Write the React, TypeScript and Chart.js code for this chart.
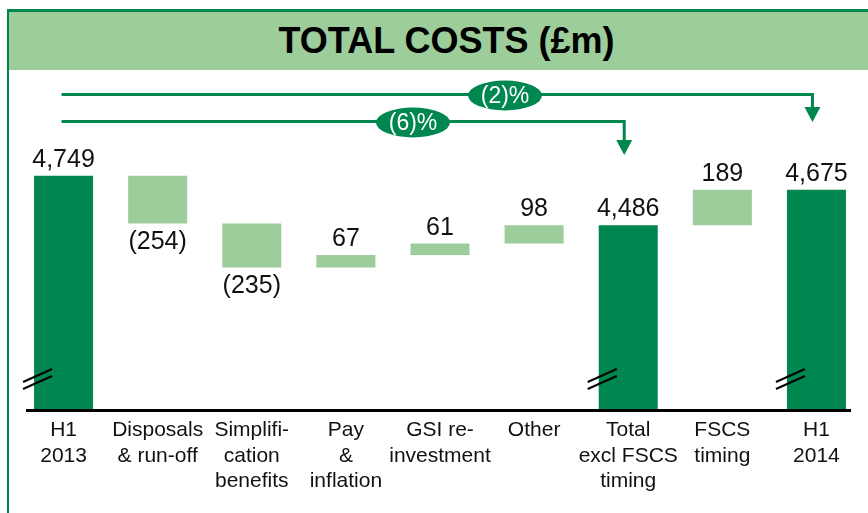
import React, { useEffect, useRef } from "react";
import { Chart, registerables } from "chart.js";

Chart.register(...registerables);

const categories: string[][] = [
  ["H1", "2013"],
  ["Disposals", "& run-off"],
  ["Simplifi-", "cation", "benefits"],
  ["Pay", "&", "inflation"],
  ["GSI re-", "investment"],
  ["Other"],
  ["Total", "excl FSCS", "timing"],
  ["FSCS", "timing"],
  ["H1", "2014"],
];
const changes: number[] = [4749, -254, -235, 67, 61, 98, 4486, 189, 4675];
const isTotal: boolean[] = [true, false, false, false, false, false, true, false, true];
const valueLabels: string[] = ["4,749", "(254)", "(235)", "67", "61", "98", "4,486", "189", "4,675"];
const axisBase = 3500;
const axisTop = 4967;
const arrowLabels: string[] = ["(2)%", "(6)%"];

const DARK = "#00874F";
const LIGHT = "#9CCD9A";
const FONT = "'Liberation Sans', Arial, Helvetica, sans-serif";

function buildRanges(): [number, number][] {
  const out: [number, number][] = [];
  let run = 0;
  changes.forEach((v, i) => {
    if (isTotal[i]) {
      run = v;
      out.push([axisBase, v]);
    } else {
      const s = run;
      run = run + v;
      out.push([Math.min(s, run), Math.max(s, run)]);
    }
  });
  return out;
}

const overlayPlugin = {
  id: "overlay",
  afterDatasetsDraw(chart: any) {
    const ctx = chart.ctx;
    const meta = chart.getDatasetMeta(0);
    const area = chart.chartArea;
    ctx.save();
    // axis line
    ctx.strokeStyle = "#000";
    ctx.lineWidth = 3;
    ctx.beginPath();
    ctx.moveTo(26, area.bottom + 0.5);
    ctx.lineTo(851, area.bottom + 0.5);
    ctx.stroke();

    // value labels
    ctx.fillStyle = "#111";
    ctx.font = `25px ${FONT}`;
    ctx.textAlign = "center";
    meta.data.forEach((bar: any, i: number) => {
      const top = Math.min(bar.y, bar.base);
      const bottom = Math.max(bar.y, bar.base);
      if (changes[i] < 0) {
        ctx.textBaseline = "top";
        ctx.fillText(valueLabels[i], bar.x, bottom + 6);
      } else {
        ctx.textBaseline = "alphabetic";
        ctx.fillText(valueLabels[i], bar.x, top - 9);
      }
    });

    // break marks on total bars
    ctx.strokeStyle = "#000";
    ctx.lineWidth = 2;
    meta.data.forEach((bar: any, i: number) => {
      if (!isTotal[i]) return;
      const left = bar.x - bar.width / 2;
      const y0 = area.bottom - 28;
      for (const dy of [0, 7]) {
        ctx.beginPath();
        ctx.moveTo(left - 11, y0 + dy);
        ctx.lineTo(left + 18, y0 + dy - 13);
        ctx.stroke();
      }
    });

    // arrows
    const x0 = meta.data[0].x - 2;
    const drawArrow = (y: number, xEnd: number, tipY: number, label: string, pillX: number) => {
      ctx.strokeStyle = DARK;
      ctx.fillStyle = DARK;
      ctx.lineWidth = 3;
      ctx.beginPath();
      ctx.moveTo(x0, y);
      ctx.lineTo(xEnd, y);
      ctx.lineTo(xEnd, tipY - 12);
      ctx.stroke();
      ctx.beginPath();
      ctx.moveTo(xEnd - 8, tipY - 15);
      ctx.lineTo(xEnd + 8, tipY - 15);
      ctx.lineTo(xEnd, tipY);
      ctx.closePath();
      ctx.fill();
      ctx.beginPath();
      ctx.ellipse(pillX, y + 1, 37, 15, 0, 0, Math.PI * 2);
      ctx.fill();
      ctx.fillStyle = "#fff";
      ctx.font = `23px ${FONT}`;
      ctx.textAlign = "center";
      ctx.textBaseline = "middle";
      ctx.fillText(label, pillX, y + 2);
    };
    drawArrow(94.5, meta.data[8].x - 4, 122, arrowLabels[0], 505);
    drawArrow(121.5, meta.data[6].x - 4, 155, arrowLabels[1], 413);
    ctx.restore();
  },
};

export default function App() {
  const ref = useRef<HTMLCanvasElement | null>(null);
  useEffect(() => {
    if (!ref.current) return;
    const ranges = buildRanges();
    const chart = new Chart(ref.current, {
      type: "bar",
      data: {
        labels: categories,
        datasets: [
          {
            data: ranges as any,
            backgroundColor: isTotal.map((t) => (t ? DARK : LIGHT)),
            borderWidth: 0,
            barPercentage: 0.627,
            categoryPercentage: 1,
          },
        ],
      },
      options: {
        animation: false,
        responsive: false,
        devicePixelRatio: 1,
        layout: { padding: { left: 16.5, right: 4.5, top: 135, bottom: 0 } },
        plugins: { legend: { display: false }, tooltip: { enabled: false }, title: { display: false } },
        scales: {
          x: {
            grid: { display: false, drawTicks: false },
            border: { display: false },
            ticks: {
              padding: 8,
              color: "#111",
              font: { family: FONT, size: 21, lineHeight: 1.2 },
              maxRotation: 0,
              autoSkip: false,
            },
            afterFit: (scale: any) => {
              scale.height = 103;
            },
          },
          y: { display: false, min: axisBase, max: axisTop },
        },
      },
      plugins: [overlayPlugin],
    });
    return () => chart.destroy();
  }, []);

  return (
    <div style={{ position: "fixed", left: 0, top: 0, width: 868, height: 513, background: "#fff", overflow: "hidden" }}>
      <div style={{ position: "absolute", left: 7, top: 9, width: 861, height: 3, background: DARK }} />
      <div style={{ position: "absolute", left: 7, top: 9, width: 2, height: 504, background: DARK }} />
      <div
        style={{
          position: "absolute",
          left: 9,
          top: 12,
          width: 859,
          height: 58,
          background: LIGHT,
          display: "flex",
          alignItems: "center",
          justifyContent: "center",
          fontFamily: FONT,
          fontWeight: "bold",
          fontSize: 36,
          color: "#000",
        }}
      >
        <span style={{ marginLeft: 16 }}>TOTAL COSTS (£m)</span>
      </div>
      <canvas ref={ref} width={868} height={513} style={{ position: "absolute", left: 0, top: 0 }} />
    </div>
  );
}
